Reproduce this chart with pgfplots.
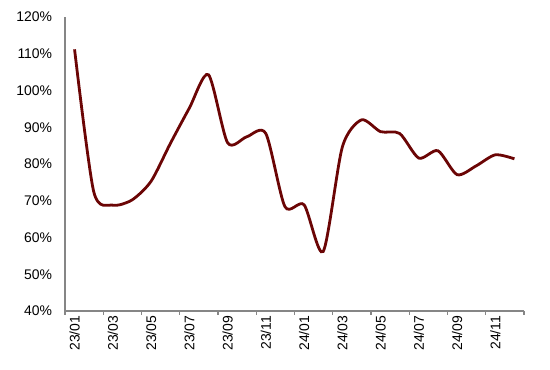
\documentclass[border=0pt]{standalone}
\usepackage{fontspec}
\setmainfont{Liberation Sans}
\usepackage{pgfplots}
\pgfplotsset{compat=1.18}
\definecolor{linec}{HTML}{6B0505}
\definecolor{axc}{HTML}{868686}
\begin{document}
\fontsize{14}{16}\selectfont
\begin{tikzpicture}
\begin{axis}[
  name=ax,
  scale only axis,
  width=459bp, height=294bp,
  xmin=-0.5, xmax=23.5,
  ymin=40, ymax=120,
  ytick={40,50,...,120},
  yticklabel={\pgfmathprintnumber{\tick}\%},
  /pgf/number format/assume math mode=true,
  axis x line*=bottom,
  axis y line*=left,
  axis line style={axc, line width=1.2bp, -},
  xtick={0,2,...,22},
  xticklabels={23/01,23/03,23/05,23/07,23/09,23/11,24/01,24/03,24/05,24/07,24/09,24/11},
  x tick label style={rotate=90, anchor=east, yshift=0bp, font=\fontsize{14}{16}\selectfont},
  y tick label style={xshift=-8bp, font=\fontsize{14}{16}\selectfont},
  major tick length=0pt,
  minor xtick={-0.5,1.5,...,23.5},
  minor tick length=4bp,
  tick align=outside,
  minor tick style={axc, line width=1.2bp},
  ytick style={draw=none},
  clip=false,
]
\addplot[linec, line width=2.8bp, smooth, tension=0.45] coordinates {
(0,111.2) (1,72.5) (2,68.8) (3,70.2) (4,75.3) (5,85.5) (6,95.2) (7,104.3)
(8,85.8) (9,87.4) (10,88.3) (11,68.4) (12,68.9) (13,56.2) (14,84.6)
(15,92) (16,88.8) (17,88.3) (18,81.6) (19,83.6) (20,77.1) (21,79.5)
(22,82.5) (23,81.4)
};
\end{axis}
\path ([xshift=-65bp,yshift=-59bp]ax.south west) rectangle ([xshift=26bp,yshift=17bp]ax.north east);
\end{tikzpicture}
\end{document}
